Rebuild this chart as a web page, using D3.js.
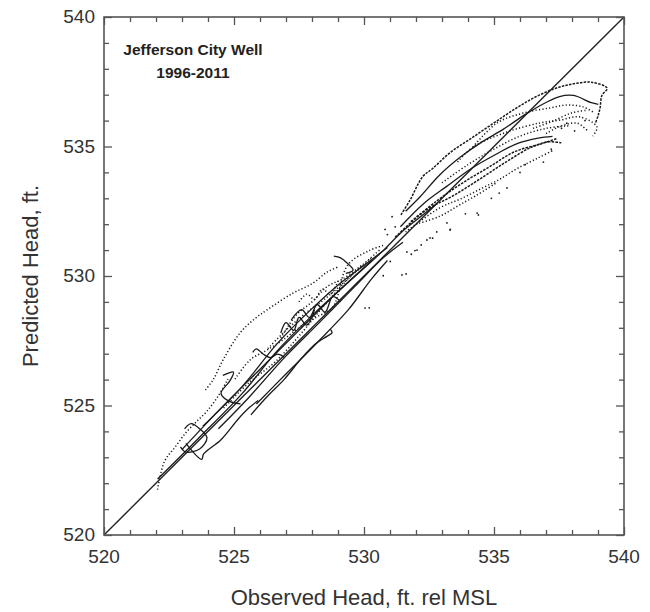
<!DOCTYPE html>
<html>
<head>
<meta charset="utf-8">
<script src="https://cdn.jsdelivr.net/npm/d3@7"></script>
<style>
  body { margin: 0; background: #fff; }
  text { font-family: "Liberation Sans", Arial, sans-serif; fill: #333; }
</style>
</head>
<body>
<svg id="chart" width="650" height="612"></svg>
<script>
// tick labels
var majorTicks = [520, 525, 530, 535, 540];
var minorTicks = d3.range(520, 541, 1);

// traces: [observed, predicted]
var upperArc = [[531.42,532.36],[531.76,532.91],[532.26,533.84],[532.64,534.15],[533.32,534.77],[534.13,535.32],[534.94,535.87],[535.76,536.42],[536.57,536.90],[537.38,537.25],[538.06,537.42],[538.74,537.48],[539.35,537.25],[539.15,536.97],[539.08,536.49],[539.01,536.21],[538.90,535.90]];
var secondArc = [[531.60,532.50],[532.15,533.05],[532.91,533.90],[533.72,534.60],[534.54,535.18],[535.35,535.66],[536.16,536.21],[536.98,536.69],[537.52,536.93],[538.06,536.97],[538.74,536.69],[539.01,536.63]];
var thirdArc = [[534.19,534.98],[535.12,535.91],[536.12,536.29],[537.15,536.49],[537.81,536.60],[538.42,536.53],[538.88,536.29]];
var fourthArc = [[533.60,534.40],[534.19,534.98],[535.50,535.56],[536.77,535.91],[537.54,536.02],[538.31,536.14],[538.96,535.75],[538.80,535.40]];
var fifthArc = [[533.00,533.60],[534.00,534.30],[535.00,534.90],[536.00,535.40],[537.00,535.70],[537.90,535.80]];
var rightDots1 = [[537.00,535.50],[537.60,535.80],[538.20,535.90],[538.60,535.60]];
var rightDots2 = [[536.50,535.70],[537.20,535.95],[538.00,536.30],[538.60,536.40]];
var upperBand1 = [[531.40,531.90],[532.30,532.80],[533.18,533.46],[534.13,534.15],[535.08,534.70],[535.89,535.11],[536.70,535.32],[537.25,535.39]];
var upperBand2 = [[531.20,531.50],[532.40,532.55],[533.45,533.11],[534.54,533.80],[535.49,534.42],[536.43,534.97],[537.11,535.18],[537.59,535.14]];
var upperBand3 = [[531.60,531.70],[532.91,532.63],[533.72,532.98],[534.54,533.39],[535.21,533.73],[535.89,534.15],[536.70,534.56],[537.25,534.84]];
var upperBand4 = [[532.00,532.00],[532.90,532.30],[533.60,532.70],[534.30,533.10],[535.10,533.60]];
var upperBand5 = [[531.80,532.10],[532.80,532.90],[533.80,533.60],[534.80,534.20],[535.80,534.80],[536.80,535.10],[537.40,535.30]];
var midUpperArc = [[523.90,525.60],[524.20,526.00],[524.60,526.80],[525.23,527.80],[525.80,528.35],[526.27,528.69],[527.27,529.34],[528.00,529.70],[528.58,530.15],[529.00,530.35]];
var lowerDashed = [[522.06,521.75],[522.33,522.85],[522.74,523.40],[523.15,523.95],[523.55,524.37],[523.96,524.78],[524.37,525.33],[524.77,526.02]];
var lowerLoop = [[522.94,523.40],[523.15,523.20],[523.69,523.33],[523.96,523.75],[523.69,524.09],[523.35,524.30],[523.10,524.10]];
var lowHook = [[523.15,523.54],[523.76,522.92],[523.83,523.13],[524.50,523.68],[525.18,524.50],[525.59,524.92],[525.93,525.19]];
var lowHook2 = [[525.65,524.64],[526.26,525.33],[526.94,526.02],[527.62,526.85],[528.16,527.40],[528.57,527.67],[528.77,527.81],[528.70,527.95]];
var bundle1 = [[522.06,522.16],[523.60,523.70],[525.32,525.47],[526.67,527.12],[528.03,528.50],[529.38,529.74],[530.74,530.98],[531.42,531.67],[532.09,532.22],[532.77,532.77]];
var bundle2 = [[523.80,524.20],[525.32,525.74],[526.67,527.40],[528.03,528.77],[529.11,529.74],[530.20,530.56],[530.90,531.10]];
var bundle3 = [[524.40,524.10],[525.59,525.33],[526.94,526.85],[528.30,528.22],[529.65,529.60],[530.74,530.70],[531.50,531.30]];
var bundle4 = [[525.04,526.02],[525.62,526.76],[526.27,527.14],[526.88,527.53],[527.54,528.03],[528.19,528.42],[528.80,528.80],[529.38,530.43],[530.20,530.98],[530.80,531.20]];
var bundle5 = [[525.86,525.06],[526.94,526.16],[527.76,526.98],[528.57,527.81],[529.40,528.70],[530.30,529.90],[530.90,530.60]];
var bundle6 = [[524.60,524.90],[525.60,525.90],[526.60,526.70],[527.60,527.80],[528.50,528.90],[529.60,530.10],[530.60,531.00]];
var bundle7 = [[523.00,523.30],[524.50,524.90],[526.00,526.40],[527.50,527.90],[529.00,529.40],[530.30,530.60]];
var bundle8 = [[526.30,527.20],[527.10,528.00],[527.80,528.60],[528.60,529.20],[529.50,530.00],[530.30,530.70]];
var bundle9 = [[526.80,527.60],[527.40,528.50],[528.00,529.00],[528.60,529.60],[529.20,529.90],[529.90,530.40]];
var kinkCurl = [[525.72,527.05],[525.86,527.19],[526.13,526.98],[526.40,526.85],[526.67,526.98],[526.94,526.85]];
var smallCurl = [[524.57,526.16],[524.98,526.29],[524.84,525.95],[524.50,525.47],[524.77,525.19],[525.25,525.06]];
var topHook = [[528.84,530.77],[529.10,530.70],[529.35,530.50],[529.58,530.23],[529.30,530.10]];
var tangle1 = [[527.20,528.30],[527.60,528.70],[527.90,528.40],[528.20,528.90],[528.50,528.60],[528.80,529.20],[529.10,529.00]];
var tangle2 = [[527.50,529.00],[527.80,529.30],[528.10,529.10],[528.40,529.50],[528.70,529.30],[529.00,529.80]];
var tangle3 = [[526.80,527.80],[527.00,528.20],[527.30,527.90],[527.50,528.40],[527.80,528.10],[528.10,528.70]];

var scatterPts = [[530.20,528.77],[531.62,530.08],[531.82,530.84],[531.96,530.98],[532.64,531.46],[533.32,531.80],[534.40,532.36],[530.74,530.01],[531.01,530.56],[530.81,531.80],[531.08,532.29],[532.42,531.39],[533.31,531.78],[534.35,532.43],[531.65,530.93],[532.04,531.00],[532.54,531.47],[531.46,530.04],[533.19,532.05],[530.04,528.76],[537.80,535.90],[538.10,535.60],[537.60,535.70],[538.50,536.00],[536.20,534.30],[536.90,534.40],[534.90,533.00],[535.50,533.40],[533.90,532.40],[530.90,531.60],[531.20,531.90],[532.20,531.20],[532.80,531.70],[535.20,533.20],[536.00,534.00],[537.20,534.90]];

var solidTraces = [secondArc, upperBand1, lowerLoop, lowHook, lowHook2, bundle1, bundle2, bundle3, bundle5, bundle7, kinkCurl, smallCurl, topHook, tangle1, tangle3];
var denseTraces = [upperArc, upperBand2, upperBand5];
var dottedTraces = [thirdArc, fourthArc, fifthArc, rightDots1, rightDots2, upperBand3, upperBand4, midUpperArc, lowerDashed, bundle4, bundle6, bundle8, bundle9, tangle2];

var svg = d3.select("#chart");
var pLeft = 104, pRight = 624, pTop = 17, pBottom = 535;

var x = d3.scaleLinear().domain([520, 540]).range([pLeft, pRight]);
var y = d3.scaleLinear().domain([520, 540]).range([pBottom, pTop]);

var line = d3.line()
    .x(function(d) { return x(d[0]); })
    .y(function(d) { return y(d[1]); })
    .curve(d3.curveCatmullRom.alpha(0.5));

var plot = svg.append("g");

// 1:1 line
plot.append("line")
    .attr("x1", x(520)).attr("y1", y(520))
    .attr("x2", x(540)).attr("y2", y(540))
    .attr("stroke", "#222").attr("stroke-width", 1.4);

plot.selectAll(".solid").data(solidTraces).enter().append("path")
    .attr("d", line)
    .attr("fill", "none")
    .attr("stroke", "#1a1a1a")
    .attr("stroke-width", 1.3);

plot.selectAll(".dense").data(denseTraces).enter().append("path")
    .attr("d", line)
    .attr("fill", "none")
    .attr("stroke", "#1a1a1a")
    .attr("stroke-width", 1.5)
    .attr("stroke-dasharray", "2.5,1.2");

plot.selectAll(".dotted").data(dottedTraces).enter().append("path")
    .attr("d", line)
    .attr("fill", "none")
    .attr("stroke", "#1a1a1a")
    .attr("stroke-width", 1.5)
    .attr("stroke-dasharray", "1.2,2.2");

plot.selectAll(".pt").data(scatterPts).enter().append("circle")
    .attr("cx", function(d) { return x(d[0]); })
    .attr("cy", function(d) { return y(d[1]); })
    .attr("r", 0.9)
    .attr("fill", "#1a1a1a");

// axes, ticks inward on all four sides
function tickLen(v) { return v % 5 === 0 ? 8 : 5; }
function styleTicks(g, attr, sign) {
  g.select(".domain").remove();
  g.selectAll(".tick line")
      .attr(attr, function(d) { return sign * tickLen(d); })
      .attr("stroke", "#555").attr("stroke-width", 1.3);
}

svg.append("g").attr("transform", "translate(0," + pBottom + ")")
    .call(d3.axisBottom(x).tickValues(minorTicks).tickSize(0).tickFormat(""))
    .call(styleTicks, "y2", -1);
svg.append("g").attr("transform", "translate(0," + pTop + ")")
    .call(d3.axisTop(x).tickValues(minorTicks).tickSize(0).tickFormat(""))
    .call(styleTicks, "y2", 1);
svg.append("g").attr("transform", "translate(" + pLeft + ",0)")
    .call(d3.axisLeft(y).tickValues(minorTicks).tickSize(0).tickFormat(""))
    .call(styleTicks, "x2", 1);
svg.append("g").attr("transform", "translate(" + pRight + ",0)")
    .call(d3.axisRight(y).tickValues(minorTicks).tickSize(0).tickFormat(""))
    .call(styleTicks, "x2", -1);

svg.append("rect")
    .attr("x", pLeft).attr("y", pTop)
    .attr("width", pRight - pLeft).attr("height", pBottom - pTop)
    .attr("fill", "none").attr("stroke", "#555").attr("stroke-width", 1.6);

// tick labels
svg.selectAll(".xl").data(majorTicks).enter().append("text")
    .attr("x", function(d) { return x(d); })
    .attr("y", pBottom + 28)
    .attr("text-anchor", "middle")
    .style("font-size", "19px")
    .text(function(d) { return d; });
svg.selectAll(".yl").data(majorTicks).enter().append("text")
    .attr("x", pLeft - 9)
    .attr("y", function(d) { return y(d) + 6; })
    .attr("text-anchor", "end")
    .style("font-size", "19px")
    .text(function(d) { return d; });

// axis titles
svg.append("text")
    .attr("x", (pLeft + pRight) / 2)
    .attr("y", 605)
    .attr("text-anchor", "middle")
    .style("font-size", "22px")
    .text("Observed Head, ft. rel MSL");
svg.append("text")
    .attr("transform", "translate(38," + ((pTop + pBottom) / 2) + ") rotate(-90)")
    .attr("text-anchor", "middle")
    .style("font-size", "22px")
    .text("Predicted Head, ft.");

// title
svg.append("text")
    .attr("x", 193).attr("y", 55)
    .attr("text-anchor", "middle")
    .style("font-size", "15.5px").style("font-weight", "bold").style("fill", "#222")
    .text("Jefferson City Well");
svg.append("text")
    .attr("x", 193).attr("y", 78)
    .attr("text-anchor", "middle")
    .style("font-size", "15.5px").style("font-weight", "bold").style("fill", "#222")
    .text("1996-2011");
</script>
</body>
</html>
